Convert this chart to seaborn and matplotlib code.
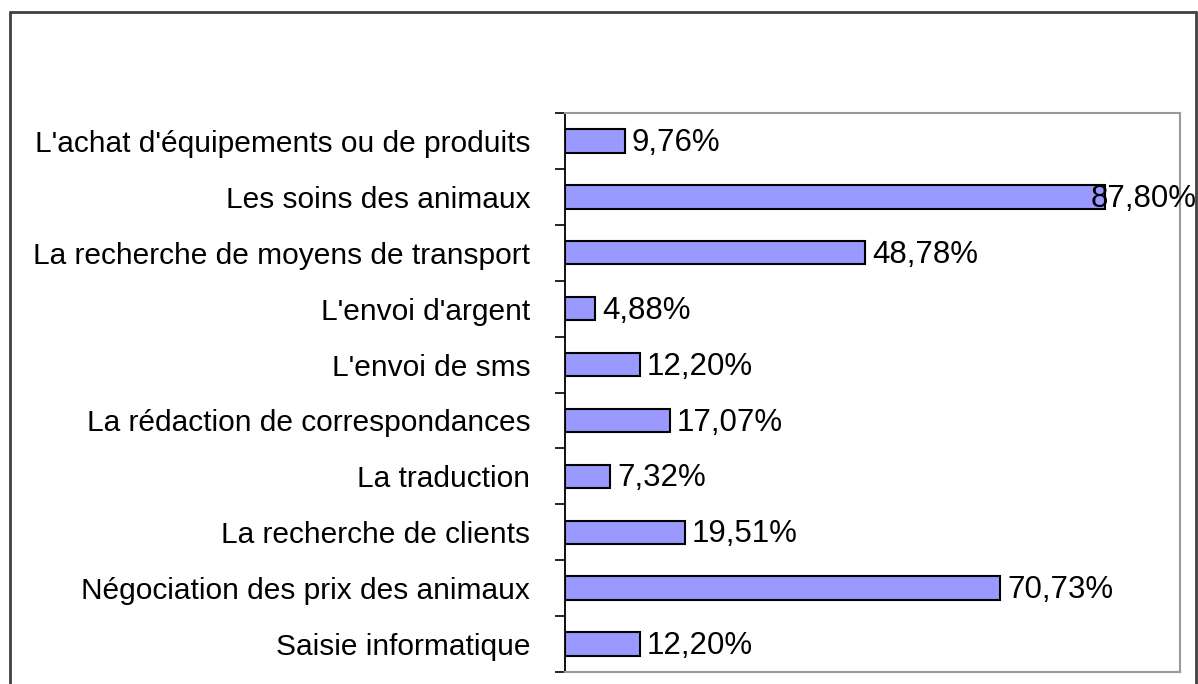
import matplotlib
matplotlib.use("Agg")
import matplotlib.pyplot as plt
import seaborn as sns
import pandas as pd
import numpy as np

categories = [
    "L'achat d'équipements ou de produits",
    "Les soins des animaux",
    "La recherche de moyens de transport",
    "L'envoi d'argent",
    "L'envoi de sms",
    "La rédaction de correspondances",
    "La traduction",
    "La recherche de clients",
    "Négociation des prix des animaux",
    "Saisie informatique",
]
values = [9.76, 87.80, 48.78, 4.88, 12.20, 17.07, 7.32, 19.51, 70.73, 12.20]

sns.set_style("white")
plt.rcParams["font.family"] = ["Liberation Sans", "DejaVu Sans"]

data = pd.DataFrame({"categorie": categories, "valeur": values})

fig = plt.figure(figsize=(11.98, 6.84), dpi=100)
ax = fig.add_axes([0.4716, 0.0175, 0.5134, 0.8173])

sns.barplot(data=data, x="valeur", y="categorie", color="#9999FF", saturation=1,
            edgecolor="black", linewidth=1.5, width=0.42, ax=ax)

ax.set_xlim(0, 100)
ax.set_ylim(len(categories) - 0.5, -0.5)
ax.set_xlabel("")
ax.set_ylabel("")
ax.set_xticks([])
ax.tick_params(axis="y", which="major", length=0, pad=25, labelsize=21.5, labelcolor="black")
ax.set_yticks(np.arange(-0.5, len(categories), 1.0), minor=True)
ax.tick_params(axis="y", which="minor", length=7, width=1.2, color="black", left=True, direction="out")

for side in ["top", "right", "bottom"]:
    ax.spines[side].set_color("#999999")
    ax.spines[side].set_linewidth(1.5)
ax.spines["left"].set_color("black")
ax.spines["left"].set_linewidth(1.3)

for i, v in enumerate(values):
    # l'étiquette la plus longue est décalée pour rester dans le cadre
    dx = -10 if v > 85 else 5
    ax.annotate(f"{v:.2f}%".replace(".", ","), xy=(v, i), xytext=(dx, -1.5),
                textcoords="offset points", va="center", ha="left",
                fontsize=22.5, color="black", annotation_clip=False, clip_on=False)

# cadre extérieur
fig.add_artist(plt.Line2D([0.0083, 0.0083], [0, 0.9825], color="#404040", lw=2, transform=fig.transFigure))
fig.add_artist(plt.Line2D([0.0083, 0.9985], [0.9825, 0.9825], color="#404040", lw=2, transform=fig.transFigure))
fig.add_artist(plt.Line2D([0.9985, 0.9985], [0, 0.9825], color="#404040", lw=2, transform=fig.transFigure))

fig.savefig("out.png", dpi=100, facecolor="white")
